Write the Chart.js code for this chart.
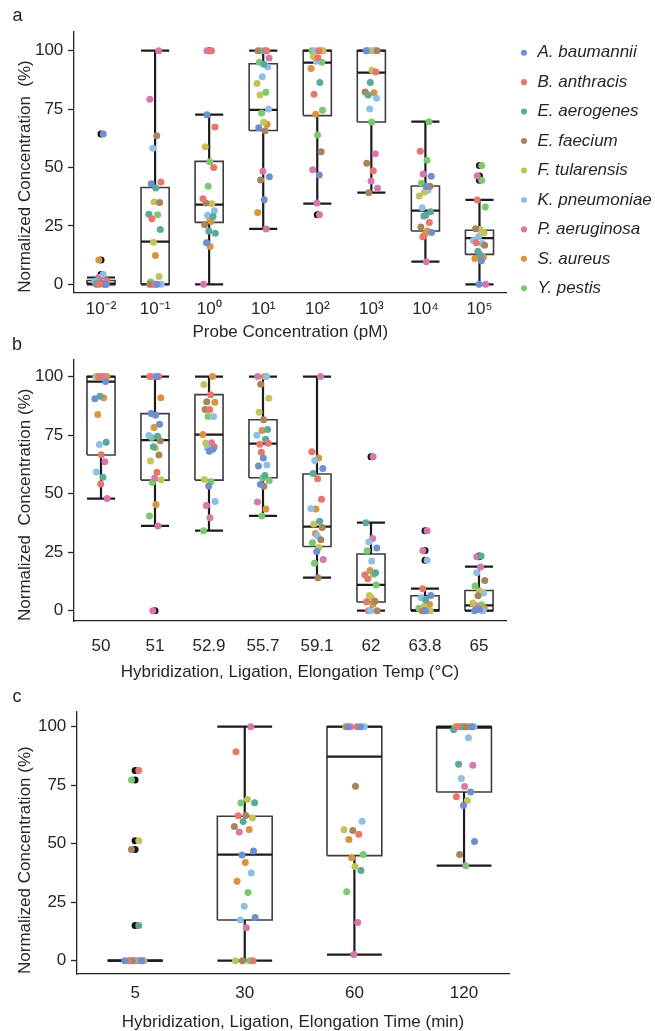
<!DOCTYPE html>
<html><head><meta charset="utf-8">
<script src="https://cdn.jsdelivr.net/npm/chart.js@4.4.1/dist/chart.umd.min.js"></script>
<style>
html,body{margin:0;padding:0;background:#fff;overflow:hidden;width:655px;height:1031px;}
canvas{position:absolute;left:0;}
.lbl{position:absolute;font:18px 'Liberation Sans',Arial,sans-serif;line-height:18px;color:#222;}
</style></head><body>
<canvas id="ca" width="655" height="345" style="top:0px"></canvas>
<canvas id="cb" width="655" height="355" style="top:330px"></canvas>
<canvas id="cc" width="655" height="370" style="top:670px"></canvas>
<div class="lbl" style="left:12.5px;top:5.5px">a</div>
<div class="lbl" style="left:12px;top:335px">b</div>
<div class="lbl" style="left:12.5px;top:686.5px">c</div>
<script>
// ---------- shared ----------
const species = ['A. baumannii','B. anthracis','E. aerogenes','E. faecium','F. tularensis','K. pneumoniae','P. aeruginosa','S. aureus','Y. pestis'];
const speciesColors = ['#6f8fce','#e6776b','#5ba89c','#a8845c','#c3c35c','#8fbee6','#d679aa','#d9943f','#7bc86f'];
const yTicks = [0,25,50,75,100];

// ---------- panel a : probe concentration ----------
const catsA = ['10\u207B\u00B2','10\u207B\u00B9','10\u2070','10\u00B9','10\u00B2','10\u00B3','10\u2074','10\u2075'];
const loA  = [0,   0,    0,    23.7, 34.5, 39.2, 9.7,  0];
const q1A  = [0,   0,    26.5, 65.8, 72.2, 69.5, 22.8, 12.8];
const medA = [0.3, 18.3, 34.1, 74.7, 94.9, 90.6, 31.5, 19.8];
const q3A  = [1.6, 41.4, 52.6, 94.4, 100,  100,  42.1, 23.1];
const hiA  = [2.9, 100,  72.6, 100,  100,  100,  69.6, 36.1];
// points per category: [species index, value]
const ptsA = [
  [[0,64.3],[7,10.4],[5,4.2],[6,3.0],[1,1.5],[2,0.6],[3,0.3],[4,0],[8,0.2],[5,1.2],[7,0],[4,0.1],[0,0],[1,0],[6,0.5],[2,0],[3,0]],
  [[6,100],[6,79.2],[3,63.6],[5,58.2],[1,43.8],[0,43],[2,41.2],[3,35],[4,35.2],[2,30],[8,29.8],[1,28.1],[2,23.4],[4,18],[7,12.3],[4,3.3],[8,1],[0,0],[1,0],[5,0],[6,0],[7,0],[3,0]],
  [[6,100],[6,100],[1,100],[0,72.6],[1,67.3],[4,58.9],[8,52.5],[1,50],[8,42],[1,36.6],[4,34.5],[3,34.8],[5,31.5],[5,29.5],[7,28.5],[2,29],[3,25.5],[7,26.9],[2,22.8],[2,21.8],[0,17.8],[7,16.2],[6,0]],
  [[1,100],[3,100],[2,100],[5,100],[6,96.9],[8,95],[2,94.2],[5,93],[5,88.8],[4,86],[8,82.2],[4,81],[5,75],[8,73.3],[4,69.4],[7,68.5],[0,67],[3,65.7],[6,48.4],[0,46],[3,44.6],[0,36.2],[7,30.7],[6,23.7]],
  [[7,100],[8,100],[1,100],[5,100],[4,100],[4,97.5],[1,97],[8,95],[5,95.5],[7,92.4],[2,86.4],[1,81.4],[8,74.5],[7,72.8],[8,63.9],[3,56.7],[6,49],[0,46.8],[6,34.8],[6,29.8]],
  [[7,100],[0,100],[5,100],[4,100],[3,100],[7,100],[4,91.6],[1,90.9],[2,86.4],[3,82.3],[7,82],[2,81],[5,79.6],[5,75],[8,69.5],[6,55.9],[3,51.8],[1,48.6],[6,44.2],[6,41.1],[3,39.2]],
  [[8,69.6],[1,56.9],[8,53.1],[6,47.2],[0,46.2],[8,43.2],[0,41.9],[3,42],[4,39.4],[4,37.8],[5,40.3],[5,32.8],[2,31.1],[2,29.2],[2,29.6],[1,26.5],[3,24.5],[7,22.8],[7,21.5],[0,22.2],[1,20.4],[6,9.7]],
  [[8,50.9],[6,46.4],[8,44.5],[1,36.1],[8,33.1],[3,23.8],[4,23.5],[4,22],[5,20.5],[5,18.7],[5,17.5],[1,17.8],[3,16.7],[2,14.1],[2,12.7],[7,11.6],[7,11],[0,10.1],[0,0],[6,0]]
];
const fliersA = [[64.3,10.4,4.2],[],[100],[],[29.8],[],[],[50.9,46.4,44.5]];

// ---------- panel b : temperature ----------
const catsB = ['50','51','52.9','55.7','59.1','62','63.8','65'];
const loB  = [47.9, 36.2, 34.2, 40.5, 14.1, 0,    0,   0];
const q1B  = [66.5, 55.8, 55.8, 56.8, 27.4, 3.7,  0,   0];
const medB = [97.9, 72.9, 75.2, 71.4, 35.9, 11.0, 0.3, 2.3];
const q3B  = [100,  84.2, 92.3, 81.6, 58.4, 24.2, 6.4, 8.6];
const hiB  = [100,  100,  100,  100,  100,  37.6, 9.4, 18.8];
const ptsB = [
  [[8,100],[5,100],[6,100],[1,100],[7,100],[4,100],[8,100],[0,97.9],[2,91.6],[0,90.5],[7,91],[7,83.8],[2,72],[5,71],[1,66.6],[6,63.6],[5,59.2],[2,57],[1,54.1],[6,47.9]],
  [[1,100],[1,100],[0,100],[5,100],[7,91],[0,84.2],[0,83.5],[0,79.6],[7,78.3],[5,74.8],[2,74.5],[8,74],[3,72.6],[2,70],[4,69.6],[3,66.5],[4,63.9],[1,59.1],[6,56.7],[4,55.9],[8,54.8],[7,45.4],[8,40.5],[6,36.2],[6,0]],
  [[7,100],[4,96.6],[1,92.3],[3,89.3],[7,89],[3,86],[1,86],[5,83],[8,83],[7,75.3],[6,71.7],[4,71.6],[1,70],[5,69.6],[0,68.1],[0,69],[4,56],[8,55.1],[0,53.3],[5,46.6],[6,44.9],[6,39.7],[8,34.2]],
  [[5,100],[6,100],[7,100],[3,96.7],[4,90.8],[4,84.8],[3,81.6],[2,77.4],[7,77],[5,75],[2,73.2],[1,71.1],[1,71.5],[1,67.7],[0,65.2],[5,62.2],[0,61.8],[2,57.8],[8,56.7],[8,55.6],[0,54],[3,53.2],[6,46.4],[7,43.4],[8,40.5]],
  [[6,100],[1,67.9],[7,65.2],[5,64.2],[0,60.8],[2,58.6],[1,56.4],[1,47.6],[7,43.5],[5,43.7],[2,38.2],[4,37],[3,35.5],[7,33],[5,32],[3,30.3],[8,29],[4,27],[0,25.3],[6,21.9],[8,20.3],[3,14.1]],
  [[6,65.8],[2,37.6],[6,30.8],[5,29.3],[0,26.8],[8,25.6],[5,21.2],[2,16.2],[7,17.2],[1,15.4],[8,15.6],[1,13.7],[8,11],[4,6.5],[4,5.6],[3,4],[1,3.8],[7,2.8],[5,0],[3,0],[6,0]],
  [[6,34.2],[6,25.7],[5,21.5],[1,9.4],[0,6.5],[5,5.5],[2,4.6],[7,2.7],[4,1.8],[8,1],[5,0],[7,0],[4,0],[3,0],[0,0],[8,0]],
  [[2,23.4],[6,23],[6,18.7],[5,16.2],[3,12.9],[8,10.6],[4,8.4],[5,7.6],[3,6.4],[4,3.3],[8,2.5],[6,2.2],[7,1],[1,0.5],[0,0.5],[5,0],[0,0]]
];
const fliersB = [[],[0],[],[],[],[65.8],[34.2,25.7,21.5],[23.4,23]];

// ---------- panel c : time ----------
const catsC = ['5','30','60','120'];
const loC  = [0, 0,    2.6,  40.6];
const q1C  = [0, 17.4, 44.9, 72.1];
const medC = [0, 45.3, 87.2, 99.6];
const q3C  = [0, 61.7, 100,  100];
const hiC  = [0, 100,  100,  100];
const ptsC = [
  [[1,81.3],[8,77.2],[4,51.2],[3,47.5],[2,15],[1,0],[7,0],[4,0],[5,0],[0,0],[6,0],[2,0],[8,0],[3,0],[7,0],[0,0]],
  [[6,100],[1,89.3],[4,68.9],[8,67.4],[2,67.5],[1,61.9],[3,62],[4,61],[2,59.5],[3,57.3],[7,56.1],[6,55],[0,46.9],[0,45.2],[7,41.9],[5,37.5],[7,33.9],[8,29.1],[5,23.3],[0,18.4],[5,17.4],[6,14.1],[4,0],[8,0],[3,0],[1,0]],
  [[0,100],[7,100],[1,100],[6,100],[5,100],[0,100],[3,74.5],[5,59.6],[3,55.6],[4,56],[1,54],[7,51.8],[8,45.4],[7,44],[4,40.2],[2,38.5],[8,29.5],[6,16.3],[6,2.6]],
  [[8,100],[4,100],[7,100],[2,100],[5,100],[1,100],[3,100],[0,100],[6,100],[2,98.7],[5,95.3],[2,83.9],[6,83.5],[5,77.8],[6,74.4],[0,72.1],[1,70],[4,68.5],[0,66.3],[0,50.9],[3,45.4],[8,40.6]]
];
const fliersC = [[81.3,77.2,51.2,47.5,15],[],[],[]];

// ---------- styling (not data) ----------
const JIT = [0.55,-0.8,0.25,-0.35,0.9,-0.6,0.1,0.7,-0.15,-0.95,0.4,-0.5,0.8,-0.25,0.05,0.6,-0.7,0.3,-0.05,0.95,-0.4,0.15,-0.85,0.45,-0.2,0.75,-0.65];
const FONT = "'Liberation Sans', Arial, sans-serif";
const INK = '#262626';
Chart.defaults.font.family = FONT;
Chart.defaults.font.size = 17;
Chart.defaults.color = INK;

function buildPanel(id, p) {
  const ds = [];
  species.forEach((name, s) => {
    const data = [];
    p.pts.forEach((arr, c) => arr.forEach(([sp, v], k) => {
      if (sp !== s) return;
      const isFlier = p.fliers[c].includes(v);
      const j = JIT[k % JIT.length];
      const off = isFlier ? (j >= 0 ? 0.04 : -0.04) * p.jit / 0.12 : j * p.jit;
      data.push({x: c + off, y: v});
    }));
    ds.push({type:'scatter', label:name, data, backgroundColor:speciesColors[s], borderWidth:0,
             pointRadius:3.5, pointStyle:'circle', order:0});
  });
  ds.push({type:'scatter', label:'fliers', data:p.fliers.flatMap((arr,c)=>arr.map(v=>({x:c,y:v}))),
           backgroundColor:'#111', borderWidth:0, pointRadius:3.5, order:1});
  const h = p.half, rect=[], whisk=[], caps=[], meds=[];
  p.cats.forEach((_, c) => {
    rect.push({x:c-h,y:p.q1[c]},{x:c+h,y:p.q1[c]},{x:c+h,y:p.q3[c]},{x:c-h,y:p.q3[c]},{x:c-h,y:p.q1[c]},{x:c,y:null});
    whisk.push({x:c,y:p.lo[c]},{x:c,y:p.q1[c]},{x:c,y:null},{x:c,y:p.q3[c]},{x:c,y:p.hi[c]},{x:c,y:null});
    caps.push({x:c-h,y:p.lo[c]},{x:c+h,y:p.lo[c]},{x:c,y:null},{x:c-h,y:p.hi[c]},{x:c+h,y:p.hi[c]},{x:c,y:null});
    meds.push({x:c-h,y:p.med[c]},{x:c+h,y:p.med[c]},{x:c,y:null});
  });
  const lineDs = (label, data, color, w) => ({type:'scatter', label, data, showLine:true, spanGaps:false,
      borderColor:color, borderWidth:w, pointRadius:0, fill:false, tension:0,
      borderCapStyle:'butt', borderJoinStyle:'miter', order:2});
  ds.push(lineDs('whiskers', whisk, '#1c1c1c', 2.2));
  ds.push(lineDs('caps', caps, '#1c1c1c', 2.2));
  ds.push(lineDs('medians', meds, '#1c1c1c', 2.2));
  ds.push(lineDs('boxes', rect, '#3d3d3d', 1.6));

  const plugins = [];
  if (p.legend) {
    plugins.push({id:'legendWidth', afterInit(chart){
      const lg = chart.legend; if (!lg) return;
      const f = lg.fit;
      lg.fit = function(){ f.call(this); this.width = p.legendW; };
    }});
  }

  return new Chart(document.getElementById(id), {
    data: {datasets: ds},
    plugins,
    options: {
      responsive:false, animation:false, events:[], devicePixelRatio:1,
      layout:{padding:{top:p.padTop, left:0, right:p.padRight, bottom:0}},
      plugins:{
        tooltip:{enabled:false},
        legend: p.legend ? {
          display:true, position:'right', align:'start',
          labels:{usePointStyle:true, pointStyle:'circle', boxWidth:10, boxHeight:4.3, padding:12.45,
                  color:INK, font:{size:17, style:'italic', family:FONT},
                  filter:(item)=>item.datasetIndex < species.length}
        } : {display:false}
      },
      scales:{
        x:{type:'linear', min:p.xMin, max:p.xMax,
           afterBuildTicks:(s)=>{ s.ticks = p.cats.map((_,i)=>({value:i})); },
           afterFit:(s)=>{ s.height = p.xH; },
           ticks:{callback:(v)=>p.cats[v], padding:p.xTickPad, autoSkip:false, maxRotation:0, color:INK, font:{size:17}},
           grid:{display:false, drawTicks:false},
           border:{display:true, color:INK, width:1.3},
           title:{display:true, text:p.xTitle, color:INK, font:{size:17}, padding:{top:0, bottom:p.xTitlePad}}
        },
        y:{type:'linear', min:p.yMin, max:p.yMax,
           afterBuildTicks:(s)=>{ s.ticks = yTicks.map(v=>({value:v})); },
           afterFit:(s)=>{ s.width = p.yW; },
           ticks:{padding:4.7, color:INK, font:{size:17}},
           grid:{display:true, drawOnChartArea:false, drawTicks:true, tickLength:6, tickColor:INK, tickWidth:1.3},
           border:{display:true, color:INK, width:1.3},
           title:{display:true, text:p.yTitle, align:'start', color:INK, font:{size:17}, padding:{top:15, bottom:0}}
        }
      }
    }
  });
}

buildPanel('ca', {cats:catsA, lo:loA, q1:q1A, med:medA, q3:q3A, hi:hiA, pts:ptsA, fliers:fliersA,
  half:0.26, jit:0.12, xMin:-0.5, xMax:7.5, yMin:-3.6, yMax:108.1, yW:74, xH:52.3,
  padTop:31.75, padRight:0, legend:true, legendW:148.5, xTickPad:6.5, xTitlePad:2.7,
  xTitle:'Probe Concentration (pM)', yTitle:'Normalized Concentration  (%)'});

buildPanel('cb', {cats:catsB, lo:loB, q1:q1B, med:medB, q3:q3B, hi:hiB, pts:ptsB, fliers:fliersB,
  half:0.26, jit:0.12, xMin:-0.5, xMax:7.5, yMin:-4.4, yMax:107.1, yW:74, xH:64,
  padTop:30, padRight:149, legend:false, xTickPad:15.5, xTitlePad:2.4,
  xTitle:'Hybridization, Ligation, Elongation Temp (\u00B0C)', yTitle:'Normalized  Concentration (%)'});

buildPanel('cc', {cats:catsC, lo:loC, q1:q1C, med:medC, q3:q3C, hi:hiC, pts:ptsC, fliers:fliersC,
  half:0.25, jit:0.1, xMin:-0.53, xMax:3.41, yMin:-5.7, yMax:106.4, yW:77, xH:66,
  padTop:41.7, padRight:146, legend:false, xTickPad:9.5, xTitlePad:7.4,
  xTitle:'Hybridization, Ligation, Elongation Time (min)', yTitle:'Normalized Concentration (%)'});
</script>
</body></html>
